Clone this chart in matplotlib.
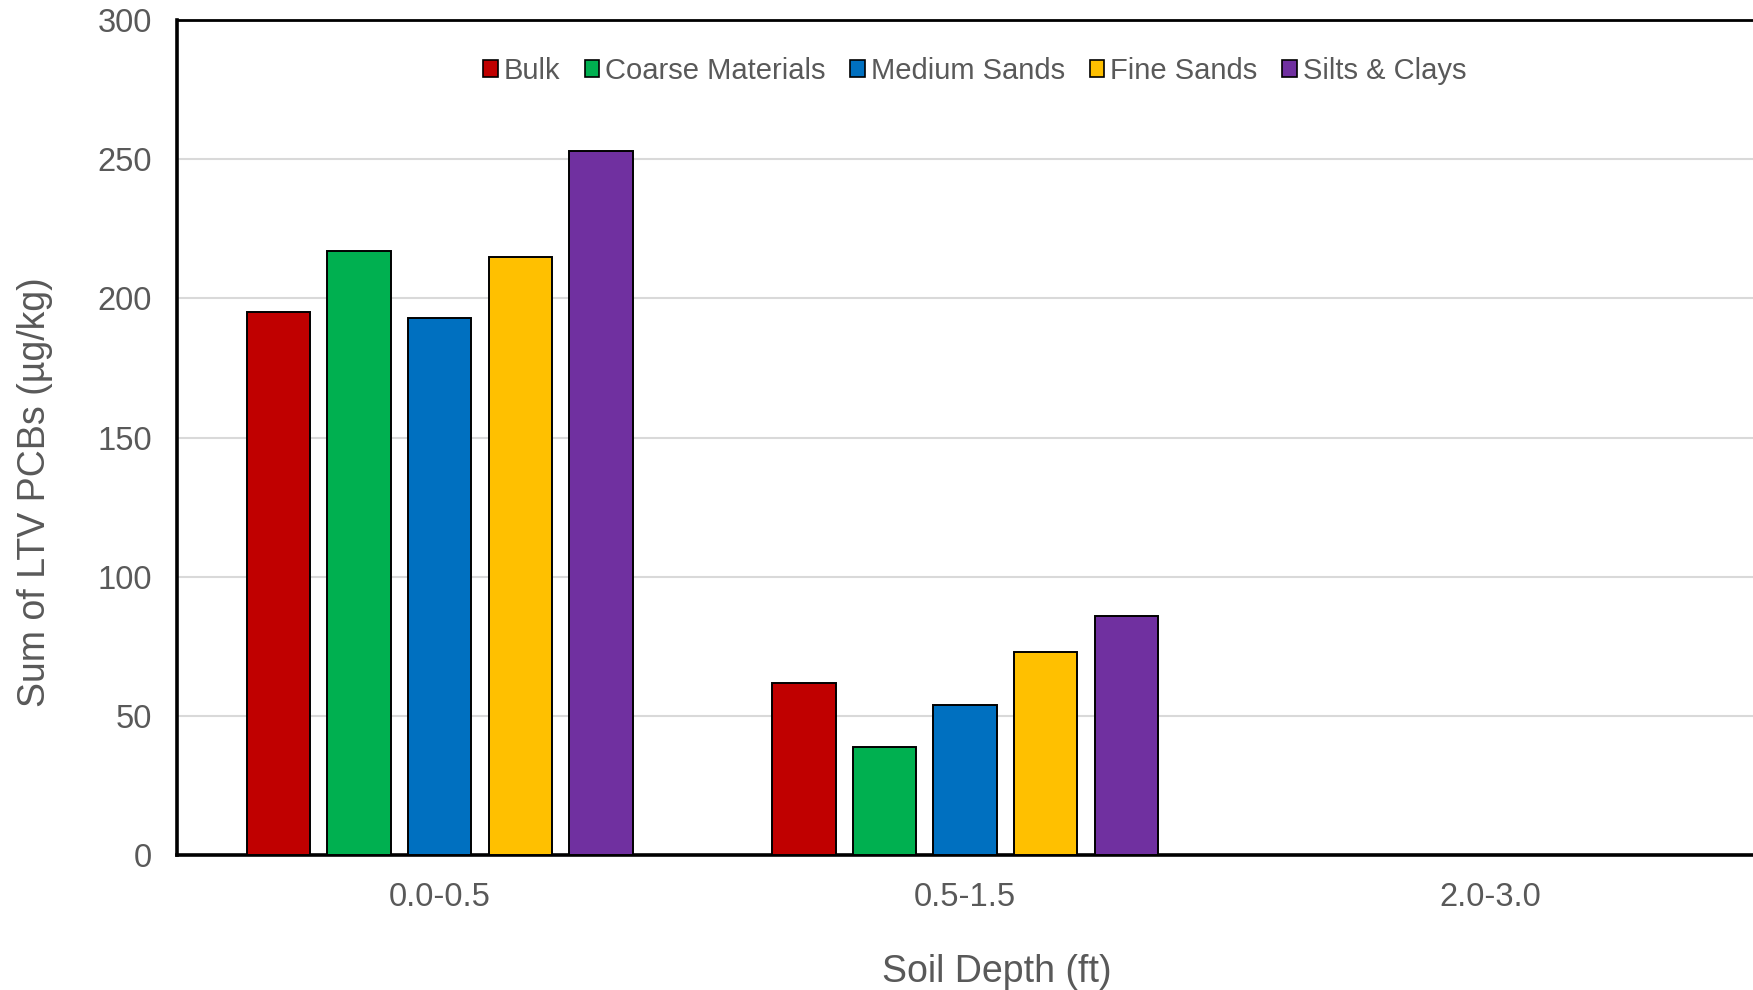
import matplotlib
matplotlib.use("Agg")
import matplotlib.pyplot as plt
from matplotlib.patches import Patch
import numpy as np

plt.rcParams['font.family'] = ['Liberation Sans', 'DejaVu Sans']

depths = ["0.0-0.5", "0.5-1.5", "2.0-3.0"]
fractions = ["Bulk", "Coarse Materials", "Medium Sands", "Fine Sands", "Silts & Clays"]
bulk = [195, 62, np.nan]
coarse = [217, 39, np.nan]
medium = [193, 54, np.nan]
fine = [215, 73, np.nan]
silts = [253, 86, np.nan]
series = [bulk, coarse, medium, fine, silts]
colors = ["#C00000", "#00B050", "#0070C0", "#FFC000", "#7030A0"]
y_ticks = [0, 50, 100, 150, 200, 250, 300]

text_color = "#595959"

fig = plt.figure(figsize=(17.53, 9.90), dpi=100)
ax = fig.add_axes([0.101, 0.136, 0.899, 0.844])

x = np.arange(len(depths))
pitch = 0.1535
width = 0.121
for i, (vals, col) in enumerate(zip(series, colors)):
    ax.bar(x + (i - 2) * pitch, vals, width=width, color=col,
           edgecolor="black", linewidth=1.4, zorder=3)

ax.set_xlim(-0.5, 2.5)
ax.set_ylim(0, 300)
ax.set_yticks(y_ticks)
ax.set_xticks(x)
ax.set_xticklabels(depths)

ax.yaxis.grid(True, color="#D9D9D9", linewidth=1.5, zorder=0)
ax.set_axisbelow(True)

ax.tick_params(axis="y", length=0, pad=18, labelsize=23.5, labelcolor=text_color)
ax.tick_params(axis="x", length=0, pad=19, labelsize=23.5, labelcolor=text_color)

for side in ["left", "bottom"]:
    ax.spines[side].set_linewidth(2.6)
    ax.spines[side].set_color("black")
ax.spines["top"].set_linewidth(2.0)
ax.spines["top"].set_color("black")
ax.spines["right"].set_visible(False)

ax.set_ylabel("Sum of LTV PCBs (µg/kg)", fontsize=27, color=text_color)
ax.yaxis.set_label_coords(-0.079, 0.435)
ax.set_xlabel("Soil Depth (ft)", fontsize=27, color=text_color)
ax.xaxis.set_label_coords(0.52, -0.118)

handles = [Patch(facecolor=c, edgecolor="black", linewidth=1.2) for c in colors]
ax.legend(handles, fractions, loc="center", bbox_to_anchor=(0.506, 0.939),
          ncol=5, frameon=False, fontsize=21, handlelength=0.5, handleheight=0.5,
          handletextpad=0.2, columnspacing=0.85, labelcolor=text_color)

fig.savefig("out.png", dpi=100)
